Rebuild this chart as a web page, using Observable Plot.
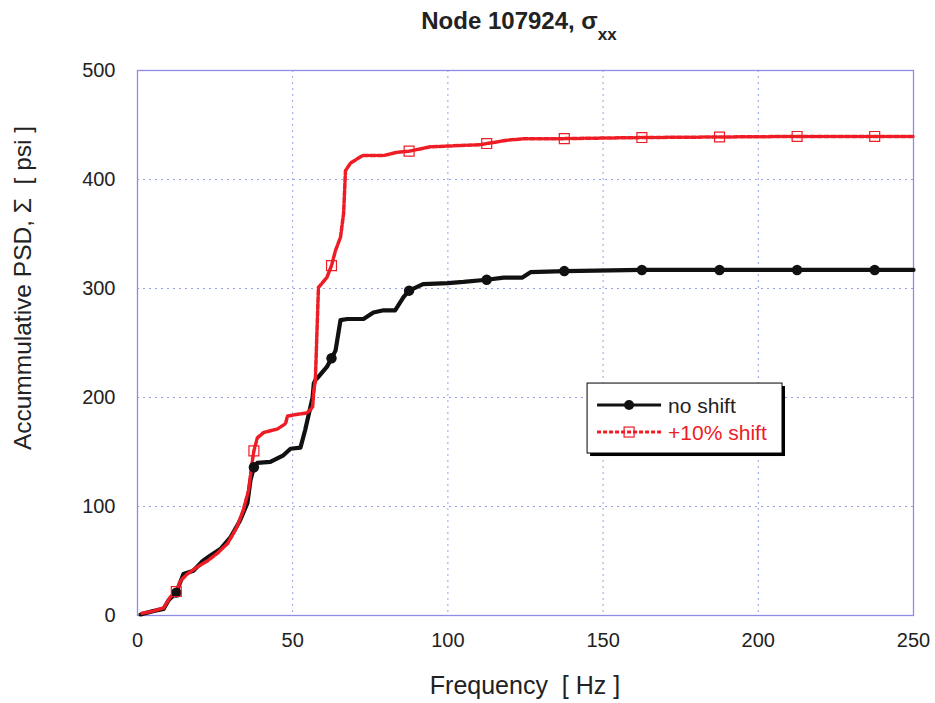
<!DOCTYPE html>
<html><head><meta charset="utf-8">
<script src="https://cdn.jsdelivr.net/npm/d3@7"></script>
<script src="https://cdn.jsdelivr.net/npm/@observablehq/plot@0.6"></script>
<style>body{margin:0;background:#fff} svg{display:block}</style>
</head><body><div id="chart"></div>
<script>
// ---- data ----
const seriesNames = ["no shift", "+10% shift"];
const freqNoShift = [1,5,8.4,10,12.5,14.8,18,21,23.5,26.7,30,33,35.4,36.4,37.5,38.6,42.8,47,49.3,52.5,54,56.4,56.8,57.3,58,61,62.5,63.8,65.4,67.6,72.8,76,79.3,83,85.7,87.5,92,100,105,112.5,118,124,126.6,137.5,162.5,187.5,212.5,237.5,250];
const psdNoShift  = [1,4,6,14,21,38,41,50,55,61,72,87,103,124,136,140,141,147,153,154,170,200,213,216,218,228,236,243,271,272,272,278,280,280,292,298,304,305,306,308,310,310,315,316,317,317,317,317,317];
const freqShift = [1.5,5,8.4,10.6,12.5,13.9,16,19,22.5,25.7,29,32,34,35.8,37,37.5,38.6,40.7,45,47.7,48.3,54.7,56.4,56.8,57.3,58.3,61,62.5,63.8,65.4,66.4,67,68.6,72.5,79.3,83.7,87.5,94.4,110.5,112.5,119,124.5,137.5,162.5,187.5,212.5,237.5,250];
const psdShift  = [2,4,7,17,22,32,38,44,50,57,66,81,96,115,142,151,163,168,171,176,183,186,191,206,216,301,310,321,335,347,369,408,415,422,422,425,426,430,432,433,436,437.5,437.5,438.5,439,439.5,439.5,439.5];
const markerFreq = [12.5,37.5,62.5,87.5,112.5,137.5,162.5,187.5,212.5,237.5];
const markerNoShift = [21,136,236,298,308,316,317,317,317,317];
const markerShift = [22,151,321,426,433,437.5,438.5,439,439.5,439.5];
const xTicks = [0,50,100,150,200,250];
const yTicks = [0,100,200,300,400,500];

const lineNo = freqNoShift.map((f,i)=>({f, v: psdNoShift[i]}));
const lineSh = freqShift.map((f,i)=>({f, v: psdShift[i]}));
const markNo = markerFreq.map((f,i)=>({f, v: markerNoShift[i]}));
const markSh = markerFreq.map((f,i)=>({f, v: markerShift[i]}));

const font = "Arial, 'Liberation Sans', Helvetica, sans-serif";
const BLACK = "#111111", RED = "#ee1c24";
const gridStyle = {stroke:"#6577e0", strokeOpacity:0.7, strokeDasharray:"2,4", strokeWidth:1};

const chart = Plot.plot({
  width:935, height:703,
  marginLeft:137, marginRight:22, marginTop:70, marginBottom:88,
  style:{fontFamily:font, background:"#fff", color:"#222"},
  x:{domain:[0,250]},
  y:{domain:[0,500]},
  marks:[
    Plot.gridX(xTicks, gridStyle),
    Plot.gridY(yTicks, gridStyle),
    Plot.frame({stroke:"#8c8ce8", strokeWidth:1.3}),
    Plot.axisX(xTicks, {tickSize:0, tickPadding:17, fontSize:20, label:null, fill:"#222"}),
    Plot.axisY(yTicks, {tickSize:0, tickPadding:22, fontSize:20, label:null, fill:"#222"}),
    Plot.line(lineNo, {x:"f", y:"v", stroke:BLACK, strokeWidth:4.2}),
    Plot.line(lineSh, {x:"f", y:"v", stroke:RED, strokeWidth:3.5, strokeDasharray:"5,2"}),
    Plot.dot(markNo, {x:"f", y:"v", r:5.2, fill:BLACK, stroke:"none"}),
    Plot.dot(markSh, {x:"f", y:"v", symbol:"square", r:5.6, fill:"none", stroke:RED, strokeWidth:1.2})
  ]
});
document.getElementById("chart").appendChild(chart);

const svg = d3.select(chart);
const sx = chart.scale("x"), sy = chart.scale("y");
const cx = (sx.apply(0) + sx.apply(250)) / 2;

// title
const title = svg.append("text").attr("x", cx - 6).attr("y", 29)
  .attr("text-anchor","middle").attr("font-family",font).attr("font-weight","bold")
  .attr("font-size",24).attr("fill","#222");
title.append("tspan").text("Node 107924, σ");
title.append("tspan").attr("dy",11).attr("font-size",17).text("xx");

// axis labels
svg.append("text").attr("x", cx).attr("y", 694).attr("text-anchor","middle")
  .attr("font-family",font).attr("font-size",25).attr("fill","#222")
  .attr("xml:space","preserve").text("Frequency  [ Hz ]");
svg.append("text").attr("transform","translate(31,288) rotate(-90)").attr("text-anchor","middle")
  .attr("font-family",font).attr("font-size",24.5).attr("fill","#222")
  .attr("xml:space","preserve").text("Accummulative PSD, Σ  [ psi ]");

// legend
const lx0 = sx.apply(145), lx1 = sx.apply(207.8);
const ly0 = sy.apply(212.8), ly1 = sy.apply(148.6);
const lg = svg.append("g").attr("text-anchor","start");
lg.append("rect").attr("x",lx0+3).attr("y",ly0+3).attr("width",lx1-lx0).attr("height",ly1-ly0).attr("fill","#000");
lg.append("rect").attr("x",lx0).attr("y",ly0).attr("width",lx1-lx0).attr("height",ly1-ly0).attr("fill","#fff").attr("stroke","#000").attr("stroke-width",1);
const rows = [
  {name:seriesNames[0], color:BLACK, dash:null, sw:3, y: ly0 + 22},
  {name:seriesNames[1], color:RED, dash:"4,2", sw:3, y: ly0 + 49}
];
rows.forEach((r,i)=>{
  lg.append("line").attr("x1",lx0+10).attr("x2",lx0+74).attr("y1",r.y).attr("y2",r.y)
    .attr("stroke",r.color).attr("stroke-width",r.sw).attr("stroke-dasharray",r.dash);
  if(i===0) lg.append("circle").attr("cx",lx0+42).attr("cy",r.y).attr("r",5).attr("fill",BLACK);
  else lg.append("rect").attr("x",lx0+37).attr("y",r.y-5).attr("width",10).attr("height",10).attr("fill","none").attr("stroke",RED).attr("stroke-width",1.2);
  lg.append("text").attr("x",lx0+81).attr("y",r.y+8).attr("text-anchor","start").attr("font-family",font).attr("font-size",21)
    .attr("fill", i===0 ? "#222" : RED).text(r.name);
});
</script>
</body></html>
